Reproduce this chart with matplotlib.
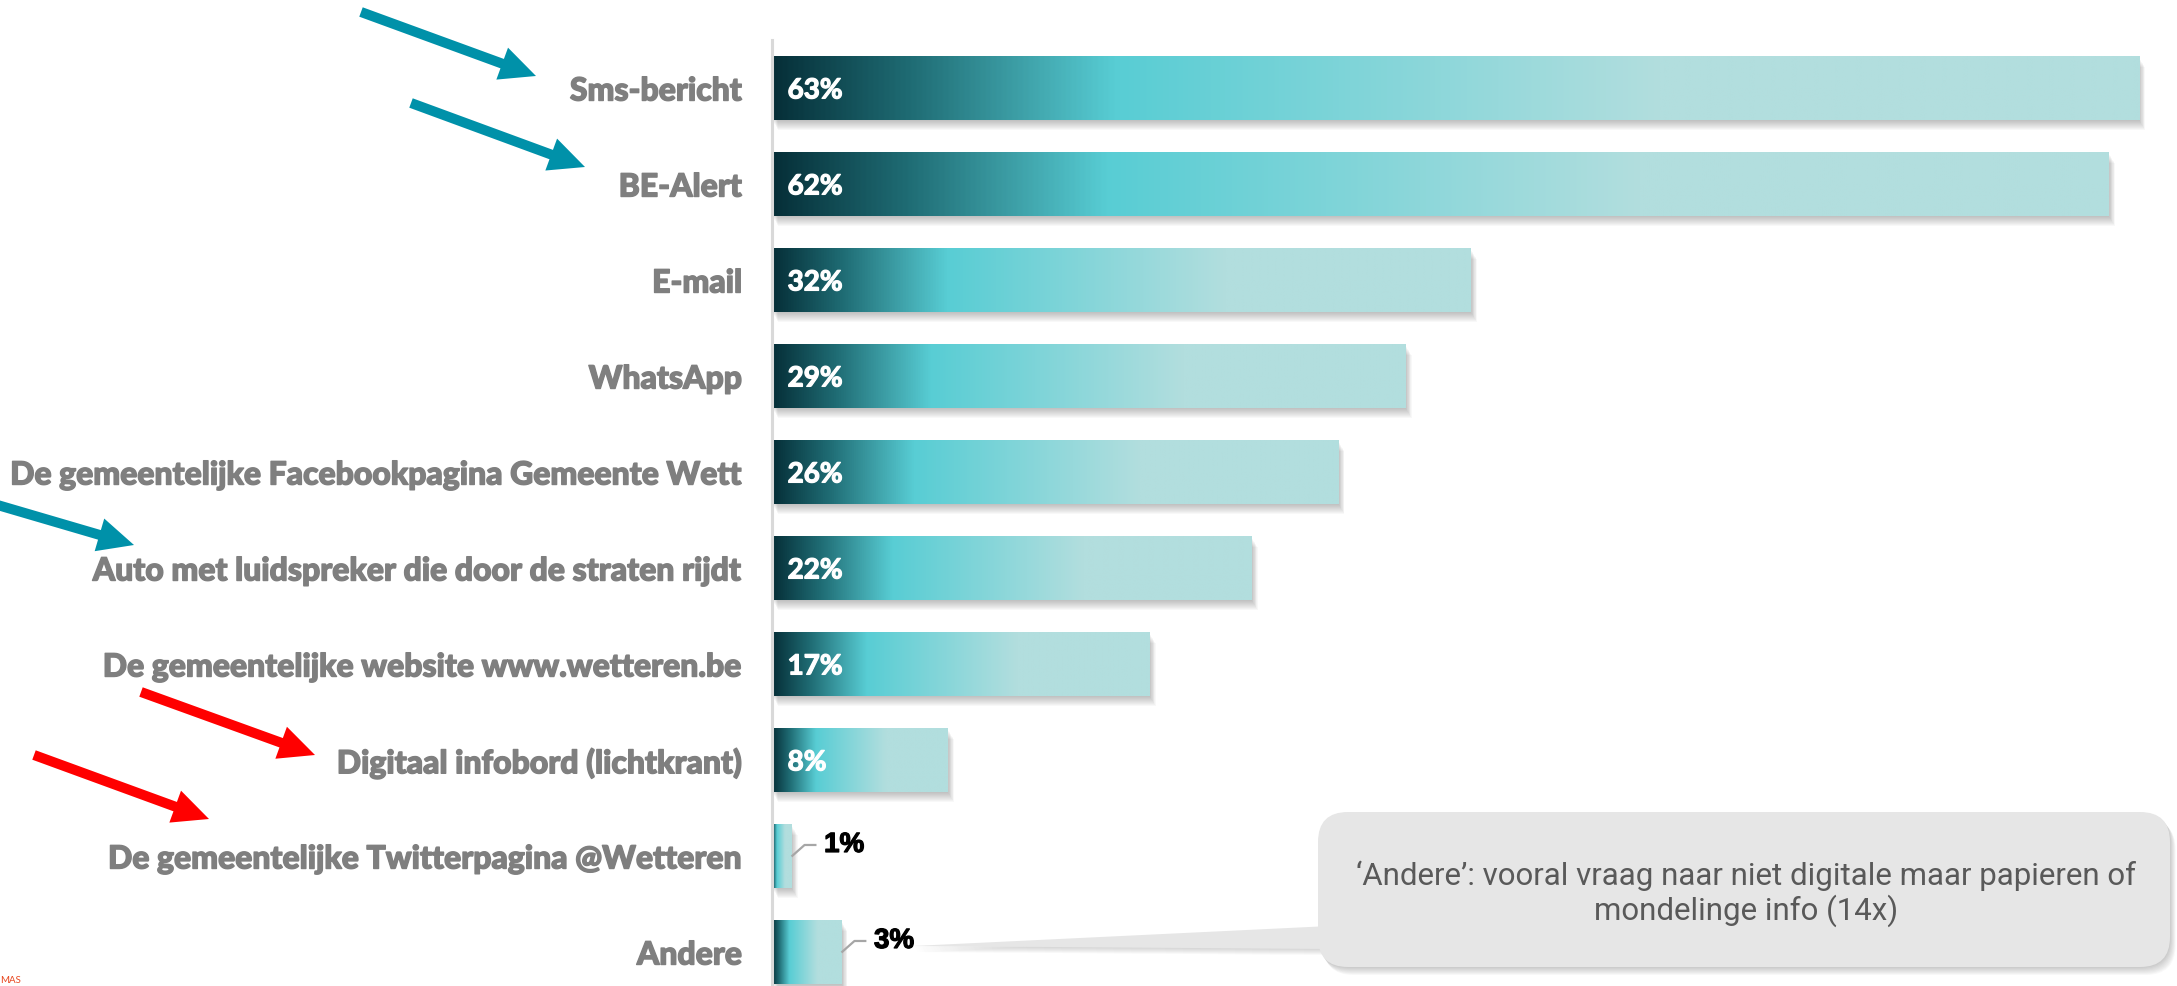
import numpy as np
import matplotlib
matplotlib.use("Agg")
import matplotlib.pyplot as plt
import matplotlib.patheffects as pe
from matplotlib.colors import LinearSegmentedColormap
from matplotlib.patches import Rectangle, FancyBboxPatch, Polygon, FancyArrow

# ---------------- data ----------------
categories = [
    "Sms-bericht",
    "BE-Alert",
    "E-mail",
    "WhatsApp",
    "De gemeentelijke Facebookpagina Gemeente Wett",
    "Auto met luidspreker die door de straten rijdt",
    "De gemeentelijke website www.wetteren.be",
    "Digitaal infobord (lichtkrant)",
    "De gemeentelijke Twitterpagina @Wetteren",
    "Andere",
]
values = [63.0, 61.6, 32.2, 29.2, 26.1, 22.1, 17.4, 8.1, 0.9, 3.2]
value_labels = ["63%", "62%", "32%", "29%", "26%", "22%", "17%", "8%", "1%", "3%"]
outside = [False] * 8 + [True, True]

note_text = "\u2018Andere\u2019: vooral vraag naar niet digitale maar papieren of\nmondelinge info (14x)"

# ---------------- layout ----------------
W, H = 2177, 986
DPI = 100
AX_LEFT = 772            # px, position of the vertical axis line
PX_PER_PCT = 21.7
ROW_PX = 96
FIRST_ROW_PX = 88.5
BAR_H = 0.66

grad = LinearSegmentedColormap.from_list(
    "bar", [(0.0, "#062f38"), (0.10, "#1f6c74"), (0.25, "#58cdd4"),
            (0.65, "#b2dede"), (1.0, "#b2dede")])

fig = plt.figure(figsize=(W / DPI, H / DPI), dpi=DPI)
fig.patch.set_facecolor("white")

ax = fig.add_axes([AX_LEFT / W, 0, 1 - AX_LEFT / W, 1])
xmax = (W - AX_LEFT) / PX_PER_PCT
y_top = -FIRST_ROW_PX / ROW_PX
y_bot = (H - FIRST_ROW_PX) / ROW_PX

px_x = 1 / PX_PER_PCT
px_y = 1 / ROW_PX

heavy_white = [pe.withStroke(linewidth=0.9, foreground="white")]
heavy_black = [pe.withStroke(linewidth=0.9, foreground="black")]
heavy_grey = [pe.withStroke(linewidth=1.0, foreground="#7f7f7f")]

gradient = np.linspace(0, 1, 512).reshape(1, -1)
for i, v in enumerate(values):
    y0 = i - BAR_H / 2
    # soft drop shadow
    for s in range(1, 11):
        ax.add_patch(Rectangle((s * 0.6 * px_x, y0 + s * px_y), v, BAR_H,
                               facecolor="#404040", alpha=0.035,
                               edgecolor="none", zorder=1))
    ax.imshow(gradient, cmap=grad, aspect="auto",
              extent=(0, v, i + BAR_H / 2, i - BAR_H / 2), zorder=2,
              interpolation="bilinear")
    if not outside[i]:
        ax.text(0.72, i + 0.02, value_labels[i], color="white",
                fontsize=20, fontweight="bold", family="Lato",
                va="center", ha="left", zorder=3, path_effects=heavy_white)
    else:
        ly = i - 0.12
        ax.plot([v, v + 0.6, v + 1.15], [i, ly, ly], color="#a6a6a6",
                lw=1.6, zorder=3, solid_capstyle="butt")
        ax.text(v + 1.5, ly, value_labels[i], color="black",
                fontsize=20, fontweight="bold", family="Liberation Sans",
                va="center", ha="left", zorder=3, path_effects=heavy_black)

ax.set_xlim(0, xmax)
ax.set_ylim(y_bot, y_top)
ax.set_yticks(range(len(categories)))
ax.set_yticklabels(categories, fontsize=23, fontweight="black",
                   family="Lato", color="#7f7f7f")
for t in ax.get_yticklabels():
    t.set_path_effects(heavy_grey)
ax.tick_params(axis="y", length=0, pad=21.5)
ax.set_xticks([])
for s in ["top", "right", "bottom"]:
    ax.spines[s].set_visible(False)
ax.spines["left"].set_color("#d9d9d9")
ax.spines["left"].set_linewidth(2.2)
ax.spines["left"].set_bounds(-0.505, y_bot)
ax.patch.set_alpha(0)

# ---------------- overlay: arrows + callout ----------------
ov = fig.add_axes([0, 0, 1, 1], zorder=5)
ov.set_xlim(0, W)
ov.set_ylim(H, 0)
ov.axis("off")
ov.patch.set_alpha(0)


def arrow(x0, y0, x1, y1, color):
    dx, dy = x1 - x0, y1 - y0
    ov.add_patch(FancyArrow(x0, y0, dx, dy, width=10, head_width=34,
                            head_length=36, length_includes_head=True,
                            color=color, lw=0))


teal = "#0091a9"
red = "#ff0000"
arrow(361, 12, 536, 76, teal)
arrow(411, 103, 585, 167, teal)
arrow(-40, 494, 134, 545, teal)
arrow(141, 692, 315, 755, red)
arrow(34, 755, 209, 819, red)

# callout box with shadow
bx, by, bw, bh = 1318, 812, 852, 155
for s in range(1, 9):
    ov.add_patch(FancyBboxPatch((bx + s * 0.7, by + s), bw, bh,
                                boxstyle="round,pad=0,rounding_size=30",
                                facecolor="#303030", alpha=0.03,
                                edgecolor="none", zorder=1))
for s in range(1, 7):
    ov.add_patch(Polygon([(913 + s * 0.5, 946 + s), (1330, 926 + s), (1330, 949 + s)],
                         closed=True, facecolor="#303030", alpha=0.03,
                         edgecolor="none", zorder=1))
ov.add_patch(Polygon([(913, 946), (1330, 926), (1330, 949)], closed=True,
                     facecolor="#e6e6e6", edgecolor="none", zorder=2))
ov.add_patch(FancyBboxPatch((bx, by), bw, bh,
                            boxstyle="round,pad=0,rounding_size=30",
                            facecolor="#e6e6e6", edgecolor="none", zorder=2))
ov.text(bx + bw / 2 + 2, by + bh / 2 + 4, note_text, ha="center", va="center",
        fontsize=22.5, family="Roboto", color="#595959", linespacing=1.15,
        zorder=3)

# footer text (cut off at the bottom edge in the original)
ov.text(0, 985, "MAS", color="#e8461e", fontsize=7, family="Lato",
        ha="left", va="bottom")

fig.savefig("out.png", dpi=DPI)
